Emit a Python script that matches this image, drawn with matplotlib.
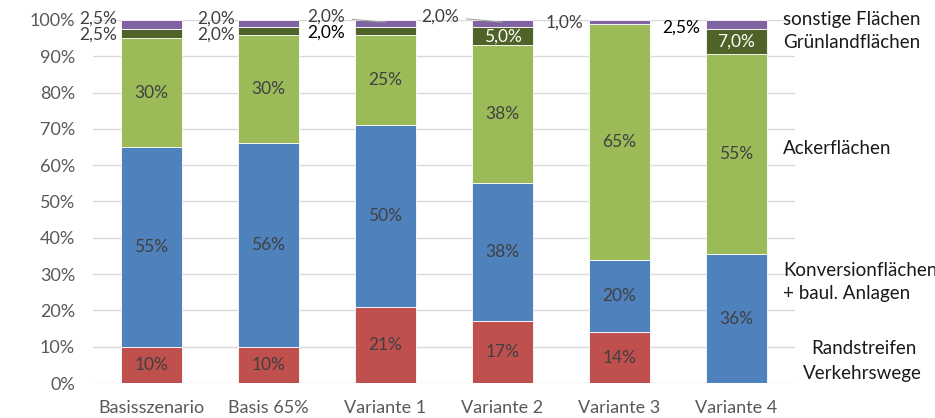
import numpy as np
import matplotlib.pyplot as plt

plt.rcParams['font.family'] = ['Lato', 'DejaVu Sans']

szenarien = ["Basisszenario", "Basis 65%", "Variante 1", "Variante 2", "Variante 3", "Variante 4"]
randstreifen = [10, 10, 21, 17, 14, 0]
konversion = [55, 56, 50, 38, 20, 35.5]
acker = [30, 30, 25, 38, 65, 55]
gruenland = [2.5, 2.0, 2.0, 5.0, 0, 7.0]
sonstige = [2.5, 2.0, 2.0, 2.0, 1.0, 2.5]

reihen = [randstreifen, konversion, acker, gruenland, sonstige]
farben = ["#C0504D", "#4F81BD", "#9BBB59", "#4F6228", "#8064A2"]

fig = plt.figure(figsize=(9.35, 4.18), dpi=100)
ax = fig.add_axes([93/935, 35/418, 702/935, 363/418])

fs = 12.5
x = np.arange(len(szenarien))
unten = np.zeros(len(szenarien))
for werte, farbe in zip(reihen, farben):
    ax.bar(x, werte, 0.525, bottom=unten, color=farbe, edgecolor="white", linewidth=0.6, zorder=2)
    unten += np.array(werte)

grau = "#404040"
# grosse Segmente: Beschriftung mittig
unten = np.zeros(len(szenarien))
for werte in reihen[:3]:
    for i, w in enumerate(werte):
        if w >= 10:
            ax.text(x[i], unten[i] + w / 2, "%.0f%%" % w, ha="center", va="center",
                    fontsize=fs, color=grau, zorder=3)
    unten += np.array(werte)

def komma(w):
    return ("%.1f%%" % w).replace(".", ",")

# kleine Segmente
oben_gruen = np.array(randstreifen) + np.array(konversion) + np.array(acker)
for i in range(len(szenarien)):
    g = gruenland[i]
    s = sonstige[i]
    mitte_g = oben_gruen[i] + g / 2
    if i in (0, 1):
        ax.text(x[i] - 0.29, 100.4, komma(s), ha="right", va="center", fontsize=fs, color=grau)
        ax.text(x[i] - 0.29, 95.9, komma(g), ha="right", va="center", fontsize=fs, color=grau)
    elif i == 2:
        ax.annotate(komma(s), xy=(x[i], 99.4), xytext=(x[i] - 0.345, 100.8),
                    ha="right", va="center", fontsize=fs, color=grau,
                    arrowprops=dict(arrowstyle="-", color="#A6A6A6", lw=0.8,
                                    shrinkA=3, shrinkB=0), annotation_clip=False)
        ax.text(x[i] - 0.345, 96.4, komma(g), ha="right", va="center", fontsize=fs, color="black")
    elif i == 3:
        ax.annotate(komma(s), xy=(x[i], 99.4), xytext=(x[i] - 0.37, 101.0),
                    ha="right", va="center", fontsize=fs, color=grau,
                    arrowprops=dict(arrowstyle="-", color="#A6A6A6", lw=0.8,
                                    shrinkA=3, shrinkB=0), annotation_clip=False)
        ax.text(x[i], mitte_g, komma(g), ha="center", va="center", fontsize=fs, color="white")
    elif i == 4:
        ax.text(x[i] - 0.31, 99.4, komma(s), ha="right", va="center", fontsize=fs, color=grau)
    else:
        ax.text(x[i] - 0.31, 98.0, komma(s), ha="right", va="center", fontsize=fs, color="black")
        ax.text(x[i], mitte_g, komma(g), ha="center", va="center", fontsize=fs, color="white")

ax.set_xlim(-0.5, 5.5)
ax.set_ylim(0, 100)
ax.set_yticks(np.arange(0, 101, 10))
ax.set_yticklabels(["%d%%" % v for v in range(0, 101, 10)])
ax.set_xticks(x)
ax.set_xticklabels(szenarien)
ax.tick_params(axis="both", length=0, labelsize=13, colors="#595959")
ax.tick_params(axis="x", pad=12)
ax.tick_params(axis="y", pad=13)
ax.grid(axis="y", color="#D9D9D9", linewidth=1, zorder=0)
ax.set_axisbelow(True)
for sp in ax.spines.values():
    sp.set_visible(False)

# Beschriftungen rechts
rechts = [
    (783, 20, "sonstige Flächen"),
    (783, 42, "Grünlandflächen"),
    (783, 148, "Ackerflächen"),
    (783, 270, "Konversionflächen"),
    (783, 293, "+ baul. Anlagen"),
    (811, 349, "Randstreifen"),
    (803, 373, "Verkehrswege"),
]
for px, py, txt in rechts:
    fig.text(px / 935, 1 - py / 418, txt, ha="left", va="center", fontsize=13.5, color="#1A1A1A")

fig.savefig("out.png", dpi=100)
